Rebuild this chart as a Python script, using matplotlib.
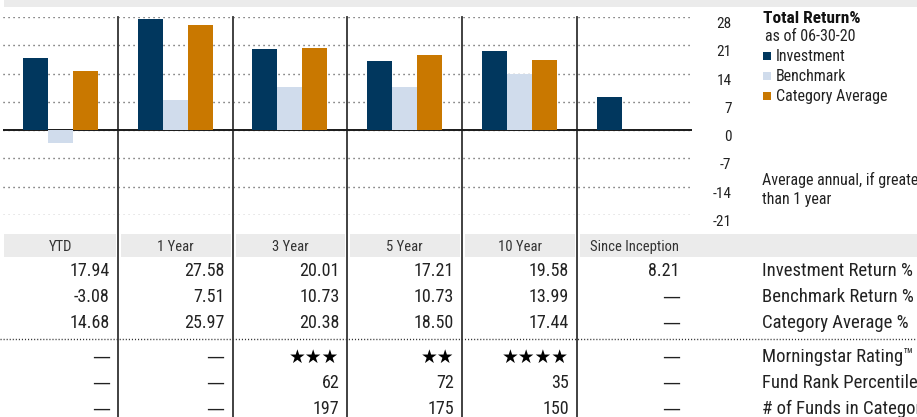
import numpy as np
import matplotlib
matplotlib.use('Agg')
import matplotlib.pyplot as plt
from matplotlib import font_manager
from matplotlib.patches import Rectangle

# pick a narrow font if the box has one
names = {f.name for f in font_manager.fontManager.ttflist}
main = 'DejaVu Sans'
for cand in ['Roboto Condensed', 'Liberation Sans Narrow', 'Open Sans Condensed', 'DejaVu Sans Condensed']:
    if cand in names:
        main = cand
        break
plt.rcParams['font.family'] = [main, 'DejaVu Sans']
if main == 'DejaVu Sans':
    plt.rcParams['font.stretch'] = 'condensed'

# data
periods = ['YTD', '1 Year', '3 Year', '5 Year', '10 Year', 'Since Inception']
investment = [17.94, 27.58, 20.01, 17.21, 19.58, 8.21]
benchmark = [-3.08, 7.51, 10.73, 10.73, 13.99, None]
category = [14.68, 25.97, 20.38, 18.50, 17.44, None]
stars = [None, None, 3, 2, 4, None]
rank_pct = [None, None, 62, 72, 35, None]
n_funds = [None, None, 197, 175, 150, None]
yticks = [-21, -14, -7, 0, 7, 14, 21, 28]
row_labels = ['Investment Return %', 'Benchmark Return %', 'Category Average %',
              'Morningstar Rating\u2122', 'Fund Rank Percentile', '# of Funds in Category']
legend_labels = ['Investment', 'Benchmark', 'Category Average']

c_inv = '#01375e'
c_bmk = '#d0dcec'
c_cat = '#c97800'
colors = [c_inv, c_bmk, c_cat]

W, H = 917, 417
fig = plt.figure(figsize=(W / 100, H / 100), dpi=100)

# layout axes in pixel units
lay = fig.add_axes([0, 0, 1, 1], zorder=0)
lay.set_xlim(0, W)
lay.set_ylim(H, 0)
lay.axis('off')

x0, colw = 3, 114.8
ncol = len(periods)

# chart axes
y_top, y_bot = 17, 215
ax = fig.add_axes([x0 / W, (H - y_bot) / H, colw * ncol / W, (y_bot - y_top) / H], zorder=2)
ax.patch.set_visible(False)
ax.set_xlim(0, ncol)
ax.set_ylim(-21, 28)

bw = 25 / colw
xs = np.arange(ncol) + 0.5
for k, series in enumerate([investment, benchmark, category]):
    idx = [i for i, v in enumerate(series) if v is not None]
    vals = [series[i] for i in idx]
    ax.bar(xs[idx] + (k - 1) * bw, vals, width=bw, color=colors[k], zorder=3)

ax.set_yticks(yticks)
ax.set_yticklabels([str(t) for t in yticks], ha='right', va='top')
ax.yaxis.tick_right()
ax.tick_params(axis='y', length=0, pad=28.5, labelsize=11, colors='#222')
ax.set_xticks([])
ax.grid(axis='y', linestyle=(0, (0.8, 2.8)), color='#444', linewidth=1)
ax.axhline(0, color='#1a1a1a', linewidth=1.4, zorder=2)
for s in ax.spines.values():
    s.set_visible(False)

# top grey band
lay.add_patch(Rectangle((4, 0), W - 4, 7, color='#ebebeb', lw=0))

# column separators
bounds = [x0 + colw * i for i in range(ncol + 1)]
for b in bounds[1:-1]:
    lay.plot([b, b], [17, H], color='#333', lw=1.3, zorder=4)

# header band
hy0, hy1 = 234, 257
for i in range(ncol):
    left = bounds[i] + 3 if i > 0 else 4
    right = bounds[i + 1] - 2 if i < ncol - 1 else W
    lay.add_patch(Rectangle((left, hy0), right - left, hy1 - hy0, color='#ebebeb', lw=0))
    lay.text((bounds[i] + bounds[i + 1]) / 2, (hy0 + hy1) / 2, periods[i],
             ha='center', va='center_baseline', fontsize=10.5, color='#333')

# table values
def fmt(v):
    return '\u2014' if v is None else f'{v:.2f}'

def fmt_int(v):
    return '\u2014' if v is None else str(v)

rows_y = [269, 295, 321, 355, 381, 407]
table = [[fmt(v) for v in investment],
         [fmt(v) for v in benchmark],
         [fmt(v) for v in category],
         None,
         [fmt_int(v) for v in rank_pct],
         [fmt_int(v) for v in n_funds]]
for r, y in enumerate(rows_y):
    for i in range(ncol):
        xr = bounds[i + 1] - (8 if i < ncol - 1 else 12)
        if r == 3 and stars[i] is not None:
            lay.text(xr, y, '\u2605' * stars[i], ha='right', va='center_baseline',
                     fontsize=13.5, color='#000', family='DejaVu Sans')
        elif r == 3 or table[r][i] == '\u2014':
            lay.text(xr, y, '\u2014', ha='right', va='center_baseline',
                     fontsize=13, color='#222', family='DejaVu Sans')
        else:
            lay.text(xr, y, table[r][i], ha='right', va='center_baseline', fontsize=13, color='#222')
    lay.text(762, y, row_labels[r], ha='left', va='center_baseline', fontsize=13.5, color='#222')

# dotted divider in table
lay.plot([0, W], [339, 339], color='#333', lw=1, linestyle=(0, (0.8, 1.4)), zorder=4)

# legend block
lay.text(763, 17, 'Total Return%', fontweight='bold', fontsize=12.5, ha='left',
         va='center_baseline', color='#111')
lay.text(765, 35, 'as of 06-30-20', fontsize=11.5, ha='left', va='center_baseline', color='#222')
for k, (lab, yy) in enumerate(zip(legend_labels, [55, 75, 95])):
    lay.add_patch(Rectangle((763, yy - 3), 8, 8, color=colors[k], lw=0))
    lay.text(776, yy, lab, fontsize=11.5, ha='left', va='center_baseline', color='#222')

lay.text(762, 178, 'Average annual, if greater', fontsize=11.5, ha='left', va='center_baseline', color='#222')
lay.text(762, 198, 'than 1 year', fontsize=11.5, ha='left', va='center_baseline', color='#222')

fig.savefig('out.png', dpi=100)
